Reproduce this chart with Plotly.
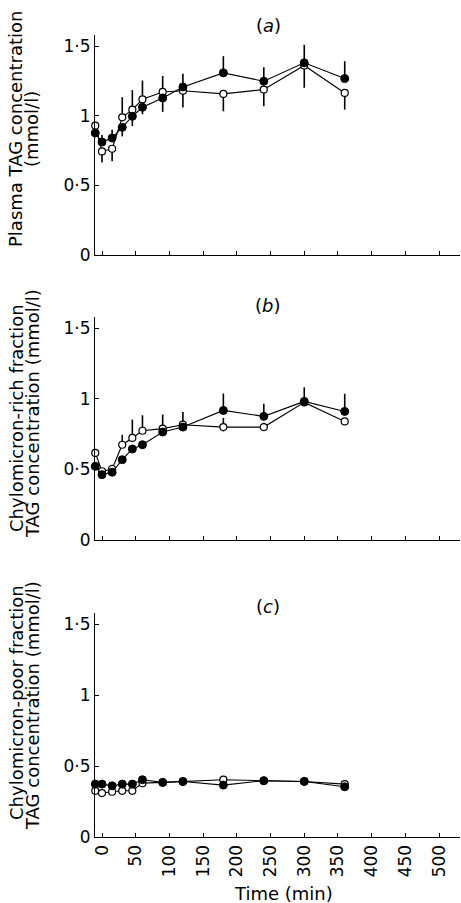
import plotly.graph_objects as go

# ---- data ----
time_min = [-10, 0, 15, 30, 45, 60, 90, 120, 180, 240, 300, 360]

plasma_filled = [0.876, 0.811, 0.84, 0.917, 0.996, 1.061, 1.128, 1.207, 1.308, 1.248, 1.38, 1.267]
plasma_open = [0.929, 0.744, 0.763, 0.989, 1.044, 1.118, 1.171, 1.18, 1.157, 1.188, 1.361, 1.164]
plasma_filled_up = [0, 0.05, 0.06, 0, 0, 0, 0, 0.095, 0.12, 0.10, 0.13, 0.125]
plasma_filled_dn = [0, 0, 0, 0.065, 0.07, 0.05, 0.10, 0, 0, 0, 0, 0]
plasma_open_up = [0, 0, 0, 0.144, 0.14, 0.135, 0.115, 0, 0, 0, 0, 0]
plasma_open_dn = [0, 0.08, 0.09, 0, 0, 0, 0, 0.12, 0.125, 0.12, 0.16, 0.12]

rich_filled = [0.522, 0.463, 0.48, 0.569, 0.645, 0.675, 0.765, 0.80, 0.918, 0.876, 0.982, 0.911]
rich_open = [0.617, 0.487, 0.503, 0.675, 0.723, 0.774, 0.789, 0.817, 0.80, 0.80, 0.975, 0.84]
rich_filled_up = [0, 0, 0, 0, 0, 0, 0, 0, 0.12, 0.09, 0.10, 0.125]
rich_filled_dn = [0, 0, 0, 0, 0, 0, 0, 0, 0, 0, 0, 0]
rich_open_up = [0, 0, 0.03, 0.07, 0.13, 0.11, 0.10, 0.09, 0.065, 0.03, 0, 0]
rich_open_dn = [0, 0, 0, 0, 0, 0, 0, 0, 0.03, 0, 0, 0]

poor_filled = [0.373, 0.373, 0.361, 0.373, 0.373, 0.404, 0.385, 0.392, 0.366, 0.397, 0.392, 0.354]
poor_open = [0.326, 0.31, 0.319, 0.326, 0.326, 0.38, 0.385, 0.39, 0.404, 0.397, 0.392, 0.373]

x_ticks = [0, 50, 100, 150, 200, 250, 300, 350, 400, 450, 500]
y_ticks = [0, 0.5, 1, 1.5]
y_ticktext = ["0", "0\u00b75", "1", "1\u00b75"]

panel_labels = ["(<i>a</i>)", "(<i>b</i>)", "(<i>c</i>)"]
ytitle_line1 = ["Plasma TAG concentration", "Chylomicron-rich fraction", "Chylomicron-poor fraction"]
ytitle_line2 = ["(mmol/l)", "TAG concentration (mmol/l)", "TAG concentration (mmol/l)"]
xtitle = "Time (min)"

FONT = "DejaVu Sans"
W, H = 461, 903
ML = 95
PW = W - ML - 1

# pixel domains (top, bottom) for each panel
pix = [(35, 255), (317, 540), (613, 837)]
doms = [[1 - b / H, 1 - t / H] for (t, b) in pix]

fig = go.Figure()

panels = [
    (plasma_filled, plasma_open, plasma_filled_up, plasma_filled_dn, plasma_open_up, plasma_open_dn),
    (rich_filled, rich_open, rich_filled_up, rich_filled_dn, rich_open_up, rich_open_dn),
    (poor_filled, poor_open, None, None, None, None),
]

for i, (f, o, fu, fd, ou, od) in enumerate(panels):
    xa = "x" if i == 0 else f"x{i+1}"
    ya = "y" if i == 0 else f"y{i+1}"
    open_err = None
    filled_err = None
    if ou is not None:
        open_err = dict(type="data", symmetric=False, array=ou, arrayminus=od,
                        color="black", thickness=1.6, width=0)
        filled_err = dict(type="data", symmetric=False, array=fu, arrayminus=fd,
                          color="black", thickness=1.6, width=0)
    fig.add_trace(go.Scatter(
        x=time_min, y=o, xaxis=xa, yaxis=ya, mode="lines+markers",
        line=dict(color="black", width=1.1),
        marker=dict(symbol="circle", size=7, color="white", line=dict(color="black", width=1.2)),
        error_y=open_err, cliponaxis=False, showlegend=False))
    fig.add_trace(go.Scatter(
        x=time_min, y=f, xaxis=xa, yaxis=ya, mode="lines+markers",
        line=dict(color="black", width=1.1),
        marker=dict(symbol="circle", size=8, color="black", line=dict(color="black", width=1)),
        error_y=filled_err, cliponaxis=False, showlegend=False))

layout = dict(
    width=W, height=H,
    margin=dict(l=ML, r=1, t=0, b=0, autoexpand=False),
    paper_bgcolor="white", plot_bgcolor="white",
    font=dict(family=FONT, color="black", size=17),
    showlegend=False,
)

for i in range(3):
    xk = "xaxis" if i == 0 else f"xaxis{i+1}"
    yk = "yaxis" if i == 0 else f"yaxis{i+1}"
    ya = "y" if i == 0 else f"y{i+1}"
    xa = "x" if i == 0 else f"x{i+1}"
    layout[xk] = dict(
        domain=[0, 1], anchor=ya, range=[-10.4, 531],
        tickvals=x_ticks, ticktext=[str(v) for v in x_ticks],
        showticklabels=(i == 2), tickangle=-90,
        ticks="inside", ticklen=4, tickcolor="black", tickwidth=1,
        showline=True, linecolor="black", linewidth=1.2,
        showgrid=False, zeroline=False, automargin=False,
        tickfont=dict(family=FONT, size=17, color="black"),
    )
    layout[yk] = dict(
        domain=doms[i], anchor=xa, range=[0, 1.58],
        tickvals=y_ticks, ticktext=y_ticktext,
        ticks="inside", ticklen=4, tickcolor="black", tickwidth=1,
        showline=True, linecolor="black", linewidth=1.2,
        showgrid=False, zeroline=False, automargin=False,
        tickfont=dict(family=FONT, size=17, color="black"),
    )

fig.update_layout(**layout)

def px_to_paper_x(px):
    return (px - ML) / PW

label_y = [25, 305, 606]
ann = []
for i in range(3):
    ann.append(dict(text=panel_labels[i], x=px_to_paper_x(268), y=1 - label_y[i] / H,
                    xref="paper", yref="paper", showarrow=False,
                    xanchor="center", yanchor="middle",
                    font=dict(family=FONT, size=18, color="black")))

title_centers = [(129, 129), (418, 414), (703, 706)]
for i in range(3):
    c1, c2 = title_centers[i]
    ann.append(dict(text=ytitle_line1[i], x=px_to_paper_x(16), y=1 - c1 / H,
                    xref="paper", yref="paper", showarrow=False, textangle=-90,
                    xanchor="center", yanchor="middle",
                    font=dict(family=FONT, size=18, color="black")))
    ann.append(dict(text=ytitle_line2[i], x=px_to_paper_x(32), y=1 - c2 / H,
                    xref="paper", yref="paper", showarrow=False, textangle=-90,
                    xanchor="center", yanchor="middle",
                    font=dict(family=FONT, size=18, color="black")))

ann.append(dict(text=xtitle, x=px_to_paper_x(283), y=1 - 893 / H,
                xref="paper", yref="paper", showarrow=False,
                xanchor="center", yanchor="middle",
                font=dict(family=FONT, size=18, color="black")))

fig.update_layout(annotations=ann)

fig.write_html("out.html", config={"displayModeBar": False},
               post_script="document.body.style.margin='0';document.body.style.padding='0';")
